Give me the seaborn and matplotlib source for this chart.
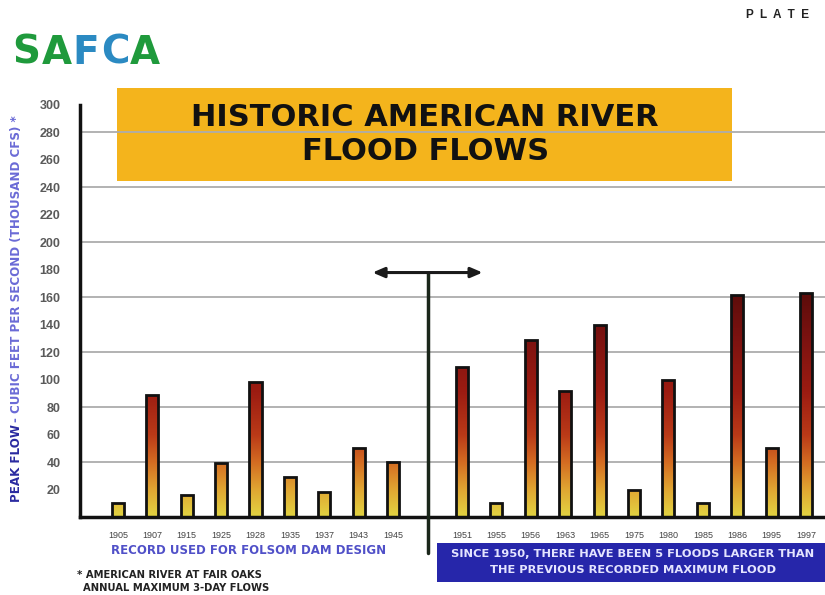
import numpy as np
import pandas as pd
import matplotlib
matplotlib.use("Agg")
import matplotlib.pyplot as plt
import seaborn as sns
from matplotlib.colors import LinearSegmentedColormap
from matplotlib.patches import Rectangle

# Annual maximum 3-day flows, American River at Fair Oaks (thousand cfs)
years_before = ["1905", "1907", "1915", "1925", "1928", "1935", "1937", "1943", "1945"]
flows_before = [10, 89, 16, 39, 98, 29, 18, 50, 40]
years_after = ["1951", "1955", "1956", "1963", "1965", "1975", "1980", "1985", "1986", "1995", "1997"]
flows_after = [109, 10, 129, 92, 140, 20, 100, 10, 162, 50, 163]
y_ticks = list(range(20, 301, 20))
grid_levels = list(range(40, 281, 40))

df = pd.DataFrame({
    "year": years_before + years_after,
    "flow": flows_before + flows_after,
})
gap = ""
order = years_before + [gap] + years_after

sns.set_style("white")
plt.rcParams["font.family"] = ["Liberation Sans", "DejaVu Sans"]
WIDE = ["DejaVu Sans"]

W, H = 825, 595
fig = plt.figure(figsize=(W / 100, H / 100), dpi=100)
fig.patch.set_facecolor("white")


def fx(px):
    return px / W


def fy(py):
    return 1 - py / H


ax = fig.add_axes([fx(80), fy(517), fx(745), (517 - 105) / H])
ax.set_axisbelow(True)

sns.barplot(data=df, x="year", y="flow", order=order, width=0.35,
            edgecolor="#111111", linewidth=2.0, ax=ax, errorbar=None)

# Vertical colour ramp inside each bar: yellow at the base to deep red at the top
ramp = LinearSegmentedColormap.from_list(
    "flood", [(0.0, "#e2d442"), (0.12, "#e0a632"), (0.24, "#d46c22"),
              (0.36, "#ba3a18"), (0.55, "#9c1c12"), (0.8, "#7a1210"),
              (1.0, "#5a0c0a")])
grad = np.linspace(0, 1, 256).reshape(-1, 1)
for bar in ax.patches:
    bar.set_facecolor("none")
    bar.set_zorder(2)
    x0 = bar.get_x()
    img = ax.imshow(grad, cmap=ramp, origin="lower", aspect="auto",
                    extent=[x0, x0 + bar.get_width(), 0, 165], zorder=1.5)
    img.set_clip_path(bar)

ax.set_xlim(-1.1, 20.55)
ax.set_ylim(0, 300)

# Horizontal grid
for g in grid_levels:
    ax.axhline(g, color="#adadad", lw=1.3, zorder=0.5)

ax.set_yticks(y_ticks)
ax.set_yticklabels([str(t) for t in y_ticks])
ax.tick_params(axis="y", length=11, width=3.5, color="#111111", pad=3,
               labelsize=9, labelcolor="#5a5a5a")
ax.tick_params(axis="x", length=0, pad=10, labelsize=6.5, labelcolor="#444444")
for lab in ax.get_yticklabels():
    lab.set_fontweight("bold")
ax.set_xlabel("")
ax.set_ylabel("")

for s in ["top", "right"]:
    ax.spines[s].set_visible(False)
for s in ["left", "bottom"]:
    ax.spines[s].set_linewidth(2.5)
    ax.spines[s].set_color("#111111")

# Divider between the design record and the post-1950 floods
ax.plot([9, 9], [178, -26], color="#1a261a", lw=2.5, clip_on=False, zorder=3)
ax.annotate("", xy=(7.4, 178), xytext=(10.6, 178),
            arrowprops=dict(arrowstyle="<|-|>,head_length=0.7,head_width=0.3",
                            color="#1a1a1a", lw=2.2, shrinkA=0, shrinkB=0),
            zorder=3)

# Title banner
ax.add_patch(Rectangle((fx(117), fy(181)), fx(732 - 117), (181 - 88) / H,
                       transform=fig.transFigure, facecolor="#f4b41c",
                       edgecolor="none", zorder=0.3, clip_on=False))
fig.text(fx(425), fy(117), "HISTORIC AMERICAN RIVER", ha="center", va="center",
         fontsize=22, fontweight="bold", color="#111111", family=WIDE)
fig.text(fx(426), fy(152), "FLOOD FLOWS", ha="center", va="center",
         fontsize=22, fontweight="bold", color="#111111", family=WIDE)

# Logo
logo = [("S", 26, "#1f9a3c"), ("A", 57, "#1f9a3c"), ("F", 86, "#2b8ac2"),
        ("C", 115, "#2b8ac2"), ("A", 145, "#1f9a3c")]
for ch, px, col in logo:
    fig.text(fx(px), fy(53), ch, ha="center", va="center", fontsize=28,
             fontweight="bold", color=col, family=WIDE)

fig.text(fx(777), fy(15), "P  L  A  T  E", ha="center", va="center", fontsize=8.5,
         fontweight="bold", color="#222222")

# Y-axis title in two tones
t1 = fig.text(fx(17), fy(502), "PEAK FLOW", rotation=90, ha="center", va="bottom",
              fontsize=8.6, fontweight="bold", color="#2a2aa0", family=WIDE)
fig.canvas.draw()
bb = t1.get_window_extent()
fig.text(fx(17), bb.y1 / fig.dpi / fig.get_figheight() + 0.004,
         "- CUBIC FEET PER SECOND (THOUSAND CFS) *", rotation=90,
         ha="center", va="bottom", fontsize=8.6, fontweight="bold",
         color="#6a6ad6", family=WIDE)

# Notes under the axis
fig.text(fx(249), fy(551), "RECORD USED FOR FOLSOM DAM DESIGN", ha="center",
         va="center", fontsize=8.5, fontweight="bold", color="#5050c8", family=WIDE)
fig.text(fx(77), fy(575), "* AMERICAN RIVER AT FAIR OAKS", ha="left",
         va="center", fontsize=7.2, fontweight="bold", color="#222222", family=WIDE)
fig.text(fx(83), fy(588), "ANNUAL MAXIMUM 3-DAY FLOWS", ha="left",
         va="center", fontsize=7.2, fontweight="bold", color="#222222", family=WIDE)

fig.patches.append(Rectangle((fx(437), fy(582)), fx(825 - 437), (582 - 543) / H,
                             transform=fig.transFigure, facecolor="#2626aa",
                             edgecolor="none", zorder=0))
fig.text(fx(633), fy(554), "SINCE 1950, THERE HAVE BEEN 5 FLOODS LARGER THAN",
         ha="center", va="center", fontsize=8.25, fontweight="bold",
         color="#e4e4ff", family=WIDE)
fig.text(fx(633), fy(570), "THE PREVIOUS RECORDED MAXIMUM FLOOD",
         ha="center", va="center", fontsize=8.25, fontweight="bold",
         color="#e4e4ff", family=WIDE)

fig.savefig("out.png", dpi=100, facecolor="white")
